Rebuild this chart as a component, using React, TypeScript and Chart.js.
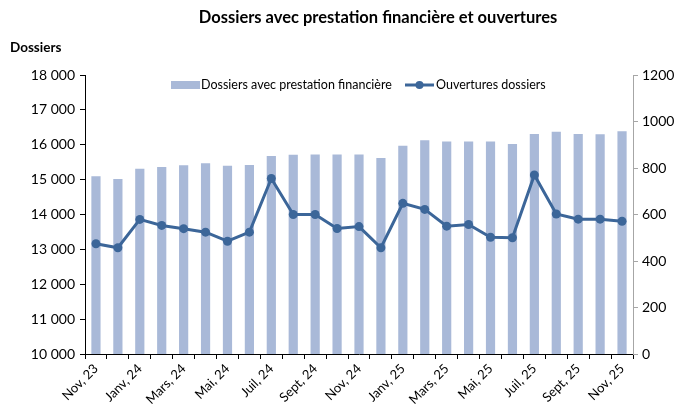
import React, { useEffect, useRef } from "react";
import { Chart, registerables } from "chart.js";
Chart.register(...registerables);

const TITLE = "Dossiers avec prestation financière et ouvertures";
const Y_TITLE = "Dossiers";
const BAR_LABEL = "Dossiers avec prestation financière";
const LINE_LABEL = "Ouvertures dossiers";

const categories = [
  "Nov, 23", "Déc, 23", "Janv, 24", "Févr, 24", "Mars, 24", "Avr, 24", "Mai, 24", "Juin, 24",
  "Juil, 24", "Août, 24", "Sept, 24", "Oct, 24", "Nov, 24", "Déc, 24", "Janv, 25", "Févr, 25",
  "Mars, 25", "Avr, 25", "Mai, 25", "Juin, 25", "Juil, 25", "Août, 25", "Sept, 25", "Oct, 25", "Nov, 25",
];

const dossiers = [
  15100, 15020, 15310, 15360, 15410, 15470, 15400, 15420,
  15680, 15710, 15720, 15720, 15720, 15620, 15970, 16130,
  16090, 16090, 16090, 16020, 16310, 16370, 16310, 16300, 16390,
];

const ouvertures = [
  474, 457, 579, 553, 539, 524, 485, 524,
  755, 600, 600, 540, 548, 457, 648, 622,
  550, 557, 502, 500, 770, 602, 580, 580, 571,
];

const leftMin = 10000, leftMax = 18000, leftStep = 1000;
const rightMin = 0, rightMax = 1200, rightStep = 200;

const BAR_COLOR = "#A9B9D8";
const LINE_COLOR = "#3C6699";
const FONT = "Lato";

const fmt = (v: number) => String(v).replace(/\B(?=(\d{3})+(?!\d))/g, " ");

export default function App() {
  const ref = useRef<HTMLCanvasElement | null>(null);
  useEffect(() => {
    document.body.style.margin = "0";
    const canvas = ref.current!;
    const decor = {
      id: "decor",
      afterDraw(chart: any) {
        const ctx = chart.ctx;
        ctx.save();
        ctx.fillStyle = "#000";
        ctx.textBaseline = "middle";
        ctx.font = `bold 16.5px ${FONT}`;
        ctx.textAlign = "center";
        ctx.fillText(TITLE, 378, 18);
        ctx.font = `bold 13.5px ${FONT}`;
        ctx.textAlign = "left";
        ctx.fillText(Y_TITLE, 10, 48);
        // legend
        const ly = 85;
        ctx.fillStyle = BAR_COLOR;
        ctx.fillRect(171, ly - 4, 29, 8);
        ctx.fillStyle = "#000";
        ctx.font = `12.5px ${FONT}`;
        ctx.fillText(BAR_LABEL, 201, ly);
        ctx.strokeStyle = LINE_COLOR;
        ctx.lineWidth = 3;
        ctx.beginPath();
        ctx.moveTo(405, ly);
        ctx.lineTo(434, ly);
        ctx.stroke();
        ctx.fillStyle = LINE_COLOR;
        ctx.beginPath();
        ctx.arc(419.5, ly, 4, 0, Math.PI * 2);
        ctx.fill();
        ctx.fillStyle = "#000";
        ctx.fillText(LINE_LABEL, 436, ly);
        ctx.restore();
      },
    };
    const chart = new Chart(canvas, {
      type: "bar",
      data: {
        labels: categories,
        datasets: [
          {
            type: "line",
            label: LINE_LABEL,
            data: ouvertures,
            yAxisID: "y1",
            borderColor: LINE_COLOR,
            backgroundColor: LINE_COLOR,
            borderWidth: 3,
            pointRadius: 4.5,
            pointBackgroundColor: LINE_COLOR,
            pointBorderWidth: 0,
            tension: 0,
            order: 0,
          } as any,
          {
            type: "bar",
            label: BAR_LABEL,
            data: dossiers,
            yAxisID: "y",
            backgroundColor: BAR_COLOR,
            categoryPercentage: 1,
            barPercentage: 0.42,
            order: 1,
          },
        ],
      },
      plugins: [decor],
      options: {
        responsive: false,
        animation: false,
        layout: { padding: { top: 75, left: 0, right: 0, bottom: 0 } },
        plugins: { legend: { display: false }, title: { display: false }, tooltip: { enabled: false } },
        scales: {
          x: {
            offset: true,
            grid: { drawOnChartArea: false, drawTicks: true, tickLength: 5, color: "#000", offset: true },
            border: { color: "#000" },
            ticks: {
              autoSkip: false,
              maxRotation: 45,
              minRotation: 45,
              padding: 2,
              color: "#000",
              font: { family: FONT, size: 13 },
              callback: (_v: any, i: number) => (i % 2 === 0 ? categories[i] : ""),
            },
            afterFit: (s: any) => { s.height = 51; },
          },
          y: {
            position: "left",
            min: leftMin,
            max: leftMax,
            grid: { drawOnChartArea: false, drawTicks: true, tickLength: 5, color: "#000" },
            border: { color: "#000" },
            ticks: {
              stepSize: leftStep,
              padding: 5,
              color: "#000",
              font: { family: FONT, size: 14 },
              callback: (v: any) => fmt(Number(v)),
            },
            afterFit: (s: any) => { s.width = 85; },
          },
          y1: {
            position: "right",
            min: rightMin,
            max: rightMax,
            grid: { drawOnChartArea: false, drawTicks: true, tickLength: 5, color: "#A6A6A6" },
            border: { color: "#A6A6A6" },
            ticks: {
              stepSize: rightStep,
              padding: 4,
              color: "#000",
              font: { family: FONT, size: 14 },
              callback: (v: any) => String(v),
            },
            afterFit: (s: any) => { s.width = 44; },
          },
        },
      },
    });
    return () => chart.destroy();
  }, []);
  return <canvas ref={ref} width={677} height={405} style={{ display: "block" }} />;
}
